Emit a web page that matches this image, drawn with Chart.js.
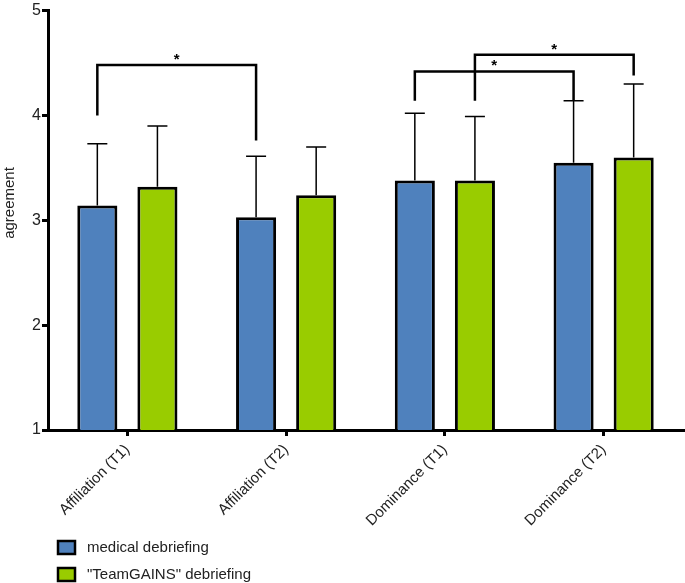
<!DOCTYPE html>
<html>
<head>
<meta charset="utf-8">
<script src="https://cdn.jsdelivr.net/npm/chart.js@4"></script>
<style>
  html, body { margin: 0; padding: 0; background: #fff; }
</style>
</head>
<body>
<canvas id="chart" width="685" height="583"></canvas>
<script>
// data
const categories = ['Affiliation (T1)', 'Affiliation (T2)', 'Dominance (T1)', 'Dominance (T2)'];
const seriesNames = ['medical debriefing', '"TeamGAINS" debriefing'];
const medicalMean = [3.14, 3.03, 3.38, 3.55];
const medicalSd = [0.59, 0.58, 0.64, 0.59];
const teamGainsMean = [3.32, 3.24, 3.38, 3.60];
const teamGainsSd = [0.58, 0.46, 0.61, 0.70];
const yTicks = [1, 2, 3, 4, 5];
const yTitle = 'agreement';
// significance brackets: series index, from/to category, foot levels and bar level
const bracketSeries = [0, 0, 1];
const bracketFrom = [0, 2, 2];
const bracketTo = [1, 3, 3];
const bracketLeftFoot = [4.00, 4.14, 4.14];
const bracketRightFoot = [3.76, 4.14, 4.38];
const bracketTop = [4.48, 4.42, 4.58];

const FONT = '"Liberation Sans", Arial, sans-serif';
const sds = [medicalSd, teamGainsSd];

// upward error whiskers
const errorBars = {
  id: 'errorBars',
  afterDatasetsDraw(chart) {
    const ctx = chart.ctx, y = chart.scales.y;
    ctx.save();
    ctx.strokeStyle = '#000';
    ctx.lineWidth = 1.5;
    chart.data.datasets.forEach((ds, di) => {
      chart.getDatasetMeta(di).data.forEach((bar, i) => {
        const top = y.getPixelForValue(ds.data[i] + sds[di][i]);
        ctx.beginPath();
        ctx.moveTo(bar.x, bar.y);
        ctx.lineTo(bar.x, top);
        ctx.moveTo(bar.x - 10, top);
        ctx.lineTo(bar.x + 10, top);
        ctx.stroke();
      });
    });
    ctx.restore();
  }
};

// significance brackets with stars
const sigBrackets = {
  id: 'sigBrackets',
  afterDatasetsDraw(chart) {
    const ctx = chart.ctx, y = chart.scales.y;
    ctx.save();
    ctx.strokeStyle = '#000';
    ctx.lineWidth = 2.5;
    bracketSeries.forEach((s, k) => {
      const meta = chart.getDatasetMeta(s);
      const x1 = meta.data[bracketFrom[k]].x;
      const x2 = meta.data[bracketTo[k]].x;
      const yt = y.getPixelForValue(bracketTop[k]);
      ctx.beginPath();
      ctx.moveTo(x1, y.getPixelForValue(bracketLeftFoot[k]));
      ctx.lineTo(x1, yt);
      ctx.lineTo(x2, yt);
      ctx.lineTo(x2, y.getPixelForValue(bracketRightFoot[k]));
      ctx.stroke();
      ctx.fillStyle = '#000';
      ctx.font = 'bold 15px ' + FONT;
      ctx.textAlign = 'center';
      ctx.textBaseline = 'alphabetic';
      ctx.fillText('*', (x1 + x2) / 2, yt - 1);
    });
    ctx.restore();
  }
};

// y title sits a bit above the axis middle in the original
const yTitlePlugin = {
  id: 'yTitlePlugin',
  afterDraw(chart) {
    const ctx = chart.ctx;
    ctx.save();
    ctx.translate(10, 203);
    ctx.rotate(-Math.PI / 2);
    ctx.fillStyle = '#222';
    ctx.font = '15px ' + FONT;
    ctx.textAlign = 'center';
    ctx.textBaseline = 'middle';
    ctx.fillText(yTitle, 0, 0);
    ctx.restore();
  }
};

// stacked legend under the axis labels
const stackLegend = {
  id: 'stackLegend',
  afterDraw(chart) {
    const ctx = chart.ctx;
    ctx.save();
    chart.data.datasets.forEach((ds, i) => {
      const top = 541 + i * 27;
      ctx.fillStyle = ds.backgroundColor;
      ctx.fillRect(58, top, 17, 13);
      ctx.strokeStyle = '#000';
      ctx.lineWidth = 2.5;
      ctx.strokeRect(58, top, 17, 13);
      ctx.fillStyle = '#222';
      ctx.font = '15px ' + FONT;
      ctx.textAlign = 'left';
      ctx.textBaseline = 'middle';
      ctx.fillText(ds.label, 87, top + 7);
    });
    ctx.restore();
  }
};

new Chart(document.getElementById('chart'), {
  type: 'bar',
  data: {
    labels: categories,
    datasets: [
      {
        label: seriesNames[0],
        data: medicalMean,
        backgroundColor: '#4f81bd',
        borderColor: '#000',
        borderWidth: 3,
        borderSkipped: false
      },
      {
        label: seriesNames[1],
        data: teamGainsMean,
        backgroundColor: '#99cc00',
        borderColor: '#000',
        borderWidth: 3,
        borderSkipped: false
      }
    ]
  },
  options: {
    responsive: false,
    animation: false,
    categoryPercentage: 0.757,
    barPercentage: 0.667,
    layout: { padding: { top: 5, right: 2, bottom: 46, left: 0 } },
    plugins: {
      legend: { display: false },
      tooltip: { enabled: false }
    },
    scales: {
      x: {
        grid: { drawOnChartArea: false, drawTicks: true, tickLength: 6, offset: false, color: '#000', lineWidth: 3 },
        border: { display: true, color: '#000', width: 3 },
        ticks: { color: '#222', font: { family: FONT, size: 15 }, minRotation: 45, maxRotation: 45, padding: 5 },
        afterFit: s => { s.height = 107; }
      },
      y: {
        min: 1,
        max: 5,
        afterBuildTicks: s => { s.ticks = yTicks.map(v => ({ value: v })); },
        grid: { drawOnChartArea: false, tickLength: 6, color: '#000', lineWidth: 3 },
        border: { display: true, color: '#000', width: 3 },
        ticks: { color: '#222', font: { family: FONT, size: 16 }, padding: 1 },
        afterFit: s => { s.width = 48; }
      }
    }
  },
  plugins: [errorBars, sigBrackets, yTitlePlugin, stackLegend]
});
</script>
</body>
</html>
